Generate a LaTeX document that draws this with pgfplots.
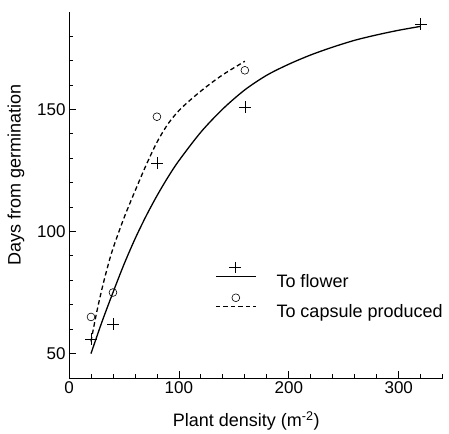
\documentclass[border=0pt]{standalone}
\usepackage{fontspec}
\setmainfont{Liberation Sans}
\usepackage{pgfplots}
\pgfplotsset{compat=1.18}

\begin{document}
\begin{tikzpicture}
\begin{axis}[
  scale only axis,
  width=373.7bp, height=366.3bp,
  xmin=0, xmax=340, ymin=40, ymax=190,
  axis lines=left,
  axis line style={-, line width=0.9bp},
  xtick={0,100,200,300},
  ytick={50,100,150},
  minor xtick={20,40,60,80,120,140,160,180,220,240,260,280,320,340},
  minor ytick={40,60,70,80,90,110,120,130,140,160,170,180},
  tick align=inside,
  major tick length=7bp,
  minor tick length=4bp,
  tick style={line width=0.8bp, black},
  /pgf/number format/assume math mode=true,
  ticklabel style={font=\fontsize{17bp}{20bp}\selectfont},
  xlabel={Plant density (m\textsuperscript{-2})},
  ylabel={Days from germination},
  every axis x label/.style={at={(axis description cs:0.474,-0.117)}, anchor=center,
    font=\fontsize{18bp}{21bp}\selectfont},
  every axis y label/.style={at={(axis description cs:-0.142,0.553)}, rotate=90, anchor=center,
    font=\fontsize{18bp}{21bp}\selectfont},
  legend style={at={(axis description cs:0.3907,0.3178)}, anchor=north west,
    draw=none, fill=none, inner sep=0bp, row sep=5bp, column sep=20bp,
    font=\fontsize{18bp}{21bp}\selectfont,
    nodes={inner sep=0bp}},
  legend cell align=left,
]
% fitted curve, to flower
\addplot[black, line width=1.3bp, smooth, forget plot] coordinates {
  (20,50) (30,63) (40,75) (50,86.5) (60,96.9) (70,106.2) (80,114.6)
  (90,122.2) (100,129) (120,140.7) (140,150.2) (160,158) (180,164)
  (200,168.5) (220,172.3) (240,175.5) (260,178.3) (280,180.5)
  (300,182.4) (320,184)
};
% fitted curve, to capsule produced
\addplot[black, line width=1.3bp, dash pattern=on 4.5bp off 3bp, smooth, forget plot] coordinates {
  (20,55) (25,66.5) (30,76.5) (35,85.3) (40,93) (50,105.5) (60,116.5)
  (70,127) (80,136.5) (90,144) (100,149.5) (110,153.7) (120,157.5)
  (130,161) (140,164.2) (150,167) (160,169.7)
};
% observed, to flower
\addplot[only marks, mark=+, mark size=5.8bp, mark options={line width=0.6bp, black},
  legend image code/.code={
    \draw[line width=1.3bp] (0bp,5bp) -- (40bp,5bp);
    \draw[line width=0.6bp] plot[mark=+, mark size=5.8bp] coordinates {(19bp,14bp)};
  }] coordinates {
  (20,56) (40,62) (80,128) (160,151) (320,185)
};
\addlegendentry{To flower}
% observed, to capsule produced
\addplot[only marks, mark=o, mark size=3.9bp, mark options={line width=0.6bp, black},
  legend image code/.code={
    \draw[line width=1.3bp, dash pattern=on 4.5bp off 3bp] (0bp,5bp) -- (40bp,5bp);
    \draw[line width=0.6bp] plot[mark=o, mark size=3.9bp] coordinates {(20bp,14bp)};
  }] coordinates {
  (20,65) (40,75) (80,147) (160,166)
};
\addlegendentry{To capsule produced}
\end{axis}
\path (current axis.south west) ++(-69bp,-54bp);
\path (current axis.north east) ++(6.3bp,11.7bp);
\end{tikzpicture}
\end{document}
